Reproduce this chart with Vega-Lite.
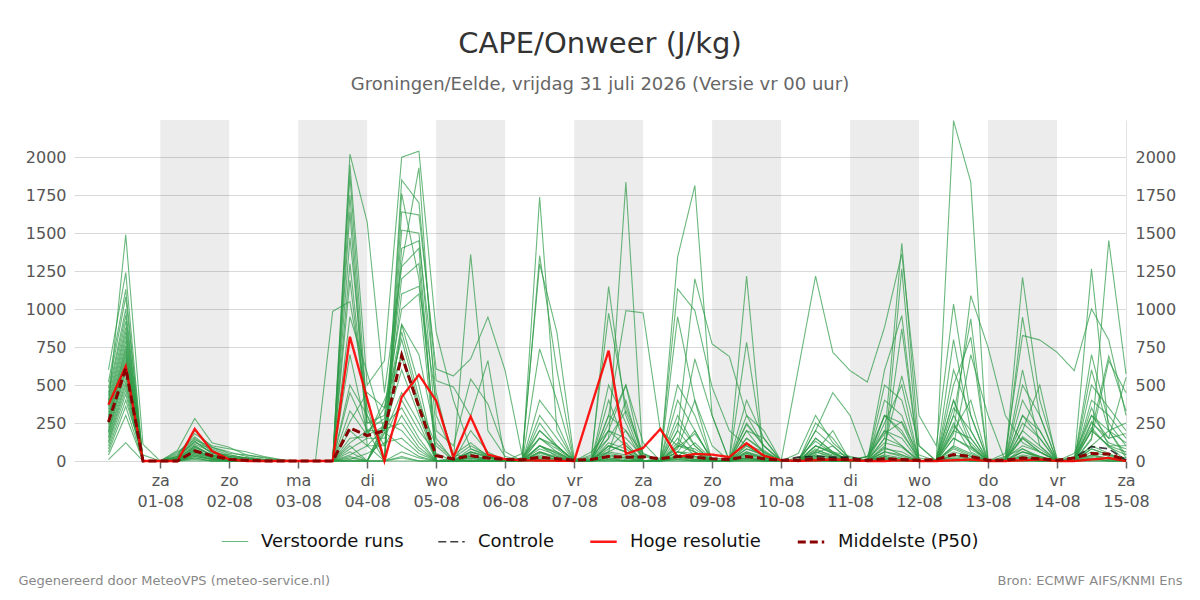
{
  "$schema": "https://vega.github.io/schema/vega-lite/v6.json",
  "width": 1052,
  "height": 341,
  "autosize": "none",
  "padding": {"left": 74, "top": 120, "right": 74, "bottom": 139},
  "title": {
    "text": "CAPE/Onweer (J/kg)",
    "subtitle": "Groningen/Eelde, vrijdag 31 juli 2026 (Versie vr 00 uur)",
    "anchor": "middle"
  },
  "config": {
    "font": "DejaVu Sans",
    "view": {"stroke": null},
    "title": {"fontSize": 29, "fontWeight": "normal", "color": "#333333", "subtitleFontSize": 18, "subtitleColor": "#666666", "subtitlePadding": 17, "offset": 25},
    "axis": {"labelFontSize": 16, "labelColor": "#555555"},
    "legend": {"layout": {"bottom": {"anchor": "middle"}}}
  },
  "datasets": {
    "reeksen": [
      {"run":"m1","serie":"Verstoorde runs","s0":450,"s1":1000,"s2":0,"s3":0,"s4":20,"s5":150,"s6":60,"s7":20,"s8":10,"s9":0,"s10":0,"s11":0,"s12":0,"s13":0,"s14":2020,"s15":1573,"s16":450,"s17":1300,"s18":1930,"s19":300,"s20":40,"s21":120,"s22":30,"s23":0,"s24":20,"s25":200,"s26":90,"s27":10,"s28":0,"s29":150,"s30":330,"s31":40,"s32":0,"s33":90,"s34":180,"s35":20,"s36":10,"s37":240,"s38":100,"s39":0,"s40":10,"s41":70,"s42":40,"s43":0,"s44":30,"s45":180,"s46":260,"s47":40,"s48":0,"s49":230,"s50":120,"s51":0,"s52":10,"s53":160,"s54":80,"s55":0,"s56":30,"s57":220,"s58":90,"s59":40},
      {"run":"m2","serie":"Verstoorde runs","s0":380,"s1":1490,"s2":110,"s3":0,"s4":70,"s5":280,"s6":120,"s7":90,"s8":40,"s9":20,"s10":5,"s11":0,"s12":0,"s13":985,"s14":1050,"s15":400,"s16":0,"s17":1760,"s18":1200,"s19":120,"s20":10,"s21":1360,"s22":200,"s23":30,"s24":0,"s25":60,"s26":20,"s27":0,"s28":40,"s29":973,"s30":360,"s31":50,"s32":0,"s33":30,"s34":120,"s35":10,"s36":0,"s37":80,"s38":40,"s39":0,"s40":50,"s41":300,"s42":120,"s43":20,"s44":0,"s45":60,"s46":870,"s47":0,"s48":10,"s49":400,"s50":150,"s51":0,"s52":30,"s53":80,"s54":20,"s55":0,"s56":0,"s57":100,"s58":200,"s59":120},
      {"run":"m3","serie":"Verstoorde runs","s0":600,"s1":1240,"s2":0,"s3":0,"s4":30,"s5":200,"s6":90,"s7":60,"s8":30,"s9":10,"s10":0,"s11":0,"s12":0,"s13":0,"s14":1950,"s15":500,"s16":660,"s17":2000,"s18":2040,"s19":850,"s20":400,"s21":80,"s22":40,"s23":0,"s24":10,"s25":100,"s26":60,"s27":0,"s28":20,"s29":60,"s30":120,"s31":0,"s32":0,"s33":1342,"s34":1814,"s35":300,"s36":0,"s37":110,"s38":60,"s39":0,"s40":20,"s41":130,"s42":50,"s43":0,"s44":0,"s45":90,"s46":40,"s47":0,"s48":0,"s49":2240,"s50":1836,"s51":0,"s52":10,"s53":60,"s54":30,"s55":0,"s56":20,"s57":200,"s58":100,"s59":60},
      {"run":"m4","serie":"Verstoorde runs","s0":520,"s1":1130,"s2":0,"s3":0,"s4":40,"s5":180,"s6":100,"s7":80,"s8":60,"s9":30,"s10":10,"s11":0,"s12":0,"s13":0,"s14":1880,"s15":300,"s16":0,"s17":1640,"s18":1620,"s19":606,"s20":560,"s21":672,"s22":947,"s23":595,"s24":30,"s25":150,"s26":80,"s27":0,"s28":10,"s29":250,"s30":500,"s31":120,"s32":0,"s33":60,"s34":200,"s35":0,"s36":0,"s37":150,"s38":70,"s39":0,"s40":0,"s41":40,"s42":20,"s43":10,"s44":30,"s45":300,"s46":180,"s47":20,"s48":0,"s49":150,"s50":90,"s51":0,"s52":0,"s53":1210,"s54":400,"s55":20,"s56":0,"s57":260,"s58":120,"s59":80},
      {"run":"m5","serie":"Verstoorde runs","s0":480,"s1":1080,"s2":0,"s3":0,"s4":20,"s5":130,"s6":50,"s7":40,"s8":20,"s9":0,"s10":0,"s11":0,"s12":0,"s13":0,"s14":1750,"s15":200,"s16":0,"s17":1850,"s18":1700,"s19":529,"s20":487,"s21":296,"s22":661,"s23":0,"s24":50,"s25":1298,"s26":848,"s27":20,"s28":0,"s29":100,"s30":60,"s31":0,"s32":0,"s33":200,"s34":1199,"s35":771,"s36":688,"s37":300,"s38":100,"s39":0,"s40":0,"s41":80,"s42":30,"s43":0,"s44":10,"s45":120,"s46":90,"s47":0,"s48":0,"s49":180,"s50":1089,"s51":749,"s52":300,"s53":120,"s54":60,"s55":0,"s56":0,"s57":80,"s58":40,"s59":0},
      {"run":"m6","serie":"Verstoorde runs","s0":430,"s1":960,"s2":0,"s3":0,"s4":50,"s5":160,"s6":70,"s7":30,"s8":20,"s9":10,"s10":0,"s11":0,"s12":0,"s13":0,"s14":1640,"s15":100,"s16":0,"s17":1520,"s18":1500,"s19":200,"s20":100,"s21":540,"s22":375,"s23":60,"s24":0,"s25":1738,"s26":200,"s27":0,"s28":30,"s29":150,"s30":1836,"s31":0,"s32":0,"s33":60,"s34":30,"s35":0,"s36":10,"s37":1217,"s38":0,"s39":0,"s40":0,"s41":100,"s42":60,"s43":30,"s44":0,"s45":150,"s46":1434,"s47":100,"s48":0,"s49":90,"s50":40,"s51":0,"s52":0,"s53":947,"s54":300,"s55":0,"s56":0,"s57":1265,"s58":200,"s59":40},
      {"run":"m7","serie":"Verstoorde runs","s0":400,"s1":920,"s2":0,"s3":0,"s4":60,"s5":140,"s6":90,"s7":50,"s8":40,"s9":25,"s10":5,"s11":0,"s12":0,"s13":0,"s14":1470,"s15":350,"s16":0,"s17":1400,"s18":1450,"s19":450,"s20":0,"s21":200,"s22":60,"s23":0,"s24":20,"s25":1353,"s26":600,"s27":0,"s28":0,"s29":1149,"s30":300,"s31":0,"s32":20,"s33":1133,"s34":990,"s35":486,"s36":200,"s37":100,"s38":30,"s39":0,"s40":606,"s41":1217,"s42":716,"s43":595,"s44":520,"s45":881,"s46":1364,"s47":300,"s48":100,"s49":1034,"s50":300,"s51":0,"s52":50,"s53":826,"s54":797,"s55":716,"s56":595,"s57":1001,"s58":797,"s59":300},
      {"run":"m8","serie":"Verstoorde runs","s0":380,"s1":880,"s2":0,"s3":0,"s4":10,"s5":100,"s6":30,"s7":20,"s8":10,"s9":0,"s10":0,"s11":0,"s12":0,"s13":0,"s14":1300,"s15":250,"s16":300,"s17":1280,"s18":1400,"s19":0,"s20":20,"s21":100,"s22":40,"s23":0,"s24":0,"s25":738,"s26":400,"s27":0,"s28":10,"s29":300,"s30":990,"s31":975,"s32":200,"s33":100,"s34":672,"s35":300,"s36":0,"s37":782,"s38":40,"s39":0,"s40":0,"s41":150,"s42":60,"s43":0,"s44":0,"s45":40,"s46":1265,"s47":0,"s48":0,"s49":300,"s50":936,"s51":0,"s52":10,"s53":150,"s54":60,"s55":0,"s56":0,"s57":140,"s58":1452,"s59":573},
      {"run":"m9","serie":"Verstoorde runs","s0":360,"s1":850,"s2":0,"s3":0,"s4":30,"s5":120,"s6":80,"s7":40,"s8":20,"s9":0,"s10":0,"s11":0,"s12":0,"s13":0,"s14":1190,"s15":250,"s16":250,"s17":1200,"s18":1300,"s19":0,"s20":10,"s21":60,"s22":30,"s23":0,"s24":0,"s25":200,"s26":100,"s27":0,"s28":0,"s29":60,"s30":400,"s31":0,"s32":0,"s33":950,"s34":397,"s35":0,"s36":0,"s37":60,"s38":20,"s39":0,"s40":0,"s41":200,"s42":450,"s43":300,"s44":0,"s45":600,"s46":957,"s47":0,"s48":0,"s49":500,"s50":815,"s51":0,"s52":0,"s53":300,"s54":200,"s55":0,"s56":0,"s57":500,"s58":350,"s59":200},
      {"run":"m10","serie":"Verstoorde runs","s0":340,"s1":820,"s2":0,"s3":0,"s4":20,"s5":90,"s6":40,"s7":10,"s8":0,"s9":0,"s10":0,"s11":0,"s12":0,"s13":0,"s14":950,"s15":580,"s16":200,"s17":1100,"s18":1150,"s19":400,"s20":40,"s21":30,"s22":0,"s23":0,"s24":0,"s25":100,"s26":50,"s27":0,"s28":60,"s29":200,"s30":150,"s31":30,"s32":0,"s33":500,"s34":300,"s35":0,"s36":0,"s37":200,"s38":50,"s39":0,"s40":0,"s41":60,"s42":30,"s43":0,"s44":30,"s45":200,"s46":100,"s47":0,"s48":0,"s49":600,"s50":300,"s51":0,"s52":20,"s53":100,"s54":60,"s55":0,"s56":50,"s57":300,"s58":150,"s59":550},
      {"run":"m11","serie":"Verstoorde runs","s0":320,"s1":790,"s2":0,"s3":0,"s4":0,"s5":80,"s6":20,"s7":0,"s8":0,"s9":0,"s10":0,"s11":0,"s12":0,"s13":0,"s14":700,"s15":180,"s16":350,"s17":1000,"s18":1100,"s19":0,"s20":0,"s21":80,"s22":30,"s23":0,"s24":10,"s25":150,"s26":60,"s27":0,"s28":0,"s29":80,"s30":200,"s31":50,"s32":0,"s33":100,"s34":80,"s35":0,"s36":0,"s37":300,"s38":200,"s39":0,"s40":0,"s41":30,"s42":0,"s43":0,"s44":0,"s45":100,"s46":560,"s47":100,"s48":0,"s49":800,"s50":200,"s51":0,"s52":0,"s53":500,"s54":300,"s55":0,"s56":0,"s57":700,"s58":250,"s59":100},
      {"run":"m12","serie":"Verstoorde runs","s0":300,"s1":760,"s2":0,"s3":0,"s4":10,"s5":70,"s6":30,"s7":20,"s8":10,"s9":0,"s10":0,"s11":0,"s12":0,"s13":0,"s14":500,"s15":300,"s16":100,"s17":900,"s18":700,"s19":150,"s20":0,"s21":40,"s22":0,"s23":0,"s24":0,"s25":300,"s26":150,"s27":0,"s28":0,"s29":400,"s30":100,"s31":0,"s32":0,"s33":200,"s34":60,"s35":0,"s36":0,"s37":100,"s38":30,"s39":0,"s40":0,"s41":200,"s42":100,"s43":0,"s44":0,"s45":300,"s46":200,"s47":0,"s48":10,"s49":400,"s50":100,"s51":0,"s52":0,"s53":200,"s54":500,"s55":0,"s56":0,"s57":200,"s58":690,"s59":330},
      {"run":"m13","serie":"Verstoorde runs","s0":290,"s1":740,"s2":0,"s3":0,"s4":0,"s5":60,"s6":20,"s7":10,"s8":0,"s9":0,"s10":0,"s11":0,"s12":0,"s13":0,"s14":450,"s15":200,"s16":280,"s17":900,"s18":500,"s19":0,"s20":0,"s21":30,"s22":20,"s23":0,"s24":0,"s25":60,"s26":30,"s27":0,"s28":0,"s29":300,"s30":200,"s31":0,"s32":0,"s33":80,"s34":400,"s35":100,"s36":0,"s37":50,"s38":20,"s39":0,"s40":0,"s41":60,"s42":20,"s43":0,"s44":0,"s45":400,"s46":300,"s47":0,"s48":0,"s49":100,"s50":700,"s51":300,"s52":0,"s53":200,"s54":100,"s55":0,"s56":0,"s57":400,"s58":300,"s59":150},
      {"run":"m14","serie":"Verstoorde runs","s0":280,"s1":720,"s2":0,"s3":0,"s4":20,"s5":110,"s6":60,"s7":30,"s8":20,"s9":10,"s10":0,"s11":0,"s12":0,"s13":0,"s14":330,"s15":170,"s16":230,"s17":850,"s18":420,"s19":0,"s20":0,"s21":50,"s22":0,"s23":0,"s24":0,"s25":400,"s26":250,"s27":0,"s28":0,"s29":500,"s30":250,"s31":0,"s32":0,"s33":150,"s34":30,"s35":0,"s36":0,"s37":200,"s38":150,"s39":0,"s40":0,"s41":100,"s42":50,"s43":0,"s44":0,"s45":250,"s46":500,"s47":0,"s48":0,"s49":250,"s50":60,"s51":0,"s52":0,"s53":300,"s54":150,"s55":0,"s56":0,"s57":150,"s58":660,"s59":450},
      {"run":"m15","serie":"Verstoorde runs","s0":260,"s1":700,"s2":0,"s3":0,"s4":0,"s5":90,"s6":40,"s7":20,"s8":0,"s9":0,"s10":0,"s11":0,"s12":0,"s13":0,"s14":260,"s15":450,"s16":350,"s17":800,"s18":380,"s19":100,"s20":0,"s21":20,"s22":0,"s23":0,"s24":0,"s25":100,"s26":30,"s27":0,"s28":0,"s29":200,"s30":500,"s31":0,"s32":0,"s33":300,"s34":100,"s35":0,"s36":0,"s37":150,"s38":60,"s39":0,"s40":0,"s41":50,"s42":100,"s43":0,"s44":0,"s45":200,"s46":150,"s47":0,"s48":0,"s49":350,"s50":200,"s51":0,"s52":0,"s53":600,"s54":100,"s55":0,"s56":0,"s57":300,"s58":200,"s59":20},
      {"run":"m16","serie":"Verstoorde runs","s0":250,"s1":680,"s2":0,"s3":0,"s4":10,"s5":80,"s6":20,"s7":10,"s8":0,"s9":0,"s10":0,"s11":0,"s12":0,"s13":0,"s14":200,"s15":100,"s16":220,"s17":720,"s18":360,"s19":0,"s20":0,"s21":60,"s22":20,"s23":0,"s24":0,"s25":250,"s26":100,"s27":0,"s28":0,"s29":100,"s30":60,"s31":0,"s32":0,"s33":400,"s34":200,"s35":0,"s36":0,"s37":250,"s38":100,"s39":0,"s40":0,"s41":150,"s42":60,"s43":0,"s44":0,"s45":60,"s46":40,"s47":0,"s48":0,"s49":200,"s50":400,"s51":0,"s52":0,"s53":250,"s54":150,"s55":0,"s56":0,"s57":600,"s58":200,"s59":250},
      {"run":"m17","serie":"Verstoorde runs","s0":240,"s1":660,"s2":0,"s3":0,"s4":0,"s5":50,"s6":10,"s7":0,"s8":0,"s9":0,"s10":0,"s11":0,"s12":0,"s13":0,"s14":150,"s15":160,"s16":400,"s17":680,"s18":340,"s19":0,"s20":0,"s21":20,"s22":0,"s23":0,"s24":0,"s25":80,"s26":40,"s27":0,"s28":0,"s29":120,"s30":80,"s31":0,"s32":0,"s33":250,"s34":100,"s35":0,"s36":0,"s37":400,"s38":150,"s39":0,"s40":0,"s41":20,"s42":0,"s43":0,"s44":0,"s45":150,"s46":100,"s47":0,"s48":0,"s49":150,"s50":80,"s51":0,"s52":0,"s53":80,"s54":30,"s55":0,"s56":0,"s57":350,"s58":100,"s59":0},
      {"run":"m18","serie":"Verstoorde runs","s0":220,"s1":640,"s2":0,"s3":0,"s4":30,"s5":130,"s6":50,"s7":30,"s8":10,"s9":0,"s10":0,"s11":0,"s12":0,"s13":0,"s14":120,"s15":200,"s16":200,"s17":600,"s18":300,"s19":0,"s20":0,"s21":60,"s22":30,"s23":0,"s24":0,"s25":150,"s26":100,"s27":0,"s28":0,"s29":100,"s30":60,"s31":0,"s32":0,"s33":60,"s34":50,"s35":0,"s36":0,"s37":40,"s38":20,"s39":0,"s40":0,"s41":250,"s42":150,"s43":0,"s44":0,"s45":500,"s46":400,"s47":0,"s48":0,"s49":300,"s50":100,"s51":0,"s52":0,"s53":150,"s54":60,"s55":0,"s56":0,"s57":200,"s58":100,"s59":100},
      {"run":"m19","serie":"Verstoorde runs","s0":200,"s1":620,"s2":0,"s3":0,"s4":0,"s5":70,"s6":30,"s7":10,"s8":0,"s9":0,"s10":0,"s11":0,"s12":0,"s13":0,"s14":100,"s15":0,"s16":180,"s17":450,"s18":250,"s19":0,"s20":0,"s21":0,"s22":0,"s23":0,"s24":0,"s25":50,"s26":20,"s27":0,"s28":0,"s29":50,"s30":30,"s31":0,"s32":0,"s33":100,"s34":60,"s35":0,"s36":0,"s37":60,"s38":30,"s39":0,"s40":0,"s41":100,"s42":50,"s43":0,"s44":0,"s45":80,"s46":60,"s47":0,"s48":0,"s49":100,"s50":50,"s51":0,"s52":0,"s53":60,"s54":30,"s55":0,"s56":0,"s57":100,"s58":50,"s59":0},
      {"run":"m20","serie":"Verstoorde runs","s0":190,"s1":600,"s2":0,"s3":0,"s4":10,"s5":100,"s6":40,"s7":20,"s8":0,"s9":0,"s10":0,"s11":0,"s12":0,"s13":0,"s14":80,"s15":150,"s16":150,"s17":400,"s18":200,"s19":50,"s20":0,"s21":30,"s22":10,"s23":0,"s24":0,"s25":100,"s26":50,"s27":0,"s28":0,"s29":200,"s30":100,"s31":0,"s32":0,"s33":120,"s34":60,"s35":0,"s36":0,"s37":80,"s38":40,"s39":0,"s40":0,"s41":60,"s42":200,"s43":0,"s44":0,"s45":300,"s46":250,"s47":0,"s48":0,"s49":200,"s50":150,"s51":0,"s52":0,"s53":400,"s54":200,"s55":0,"s56":0,"s57":250,"s58":150,"s59":180},
      {"run":"m21","serie":"Verstoorde runs","s0":180,"s1":580,"s2":0,"s3":0,"s4":0,"s5":40,"s6":10,"s7":0,"s8":0,"s9":0,"s10":0,"s11":0,"s12":0,"s13":0,"s14":60,"s15":0,"s16":240,"s17":350,"s18":150,"s19":0,"s20":0,"s21":10,"s22":0,"s23":0,"s24":0,"s25":40,"s26":10,"s27":0,"s28":0,"s29":30,"s30":20,"s31":0,"s32":0,"s33":40,"s34":20,"s35":0,"s36":0,"s37":30,"s38":10,"s39":0,"s40":0,"s41":30,"s42":10,"s43":0,"s44":0,"s45":40,"s46":20,"s47":0,"s48":0,"s49":60,"s50":30,"s51":0,"s52":0,"s53":40,"s54":20,"s55":0,"s56":0,"s57":60,"s58":30,"s59":10},
      {"run":"m22","serie":"Verstoorde runs","s0":160,"s1":550,"s2":0,"s3":0,"s4":20,"s5":60,"s6":20,"s7":10,"s8":0,"s9":0,"s10":0,"s11":0,"s12":0,"s13":0,"s14":40,"s15":100,"s16":100,"s17":300,"s18":120,"s19":0,"s20":0,"s21":0,"s22":0,"s23":0,"s24":0,"s25":30,"s26":10,"s27":0,"s28":0,"s29":60,"s30":40,"s31":0,"s32":0,"s33":30,"s34":10,"s35":0,"s36":0,"s37":20,"s38":10,"s39":0,"s40":0,"s41":20,"s42":10,"s43":0,"s44":0,"s45":30,"s46":10,"s47":0,"s48":0,"s49":40,"s50":20,"s51":0,"s52":0,"s53":30,"s54":10,"s55":0,"s56":0,"s57":40,"s58":20,"s59":0},
      {"run":"m23","serie":"Verstoorde runs","s0":150,"s1":520,"s2":0,"s3":0,"s4":0,"s5":30,"s6":10,"s7":0,"s8":0,"s9":0,"s10":0,"s11":0,"s12":0,"s13":0,"s14":30,"s15":0,"s16":210,"s17":250,"s18":90,"s19":0,"s20":0,"s21":0,"s22":0,"s23":0,"s24":0,"s25":20,"s26":10,"s27":0,"s28":0,"s29":20,"s30":10,"s31":0,"s32":0,"s33":10,"s34":0,"s35":0,"s36":0,"s37":20,"s38":0,"s39":0,"s40":0,"s41":10,"s42":0,"s43":0,"s44":0,"s45":20,"s46":10,"s47":0,"s48":0,"s49":30,"s50":10,"s51":0,"s52":0,"s53":20,"s54":0,"s55":0,"s56":0,"s57":30,"s58":10,"s59":0},
      {"run":"m24","serie":"Verstoorde runs","s0":130,"s1":500,"s2":0,"s3":0,"s4":0,"s5":20,"s6":0,"s7":0,"s8":0,"s9":0,"s10":0,"s11":0,"s12":0,"s13":0,"s14":20,"s15":0,"s16":260,"s17":200,"s18":70,"s19":0,"s20":0,"s21":0,"s22":0,"s23":0,"s24":0,"s25":10,"s26":0,"s27":0,"s28":0,"s29":10,"s30":0,"s31":0,"s32":0,"s33":20,"s34":10,"s35":0,"s36":0,"s37":10,"s38":0,"s39":0,"s40":0,"s41":10,"s42":0,"s43":0,"s44":0,"s45":10,"s46":0,"s47":0,"s48":0,"s49":20,"s50":0,"s51":0,"s52":0,"s53":10,"s54":0,"s55":0,"s56":0,"s57":20,"s58":0,"s59":0},
      {"run":"m25","serie":"Verstoorde runs","s0":120,"s1":470,"s2":0,"s3":0,"s4":0,"s5":50,"s6":20,"s7":0,"s8":0,"s9":0,"s10":0,"s11":0,"s12":0,"s13":0,"s14":10,"s15":50,"s16":120,"s17":150,"s18":50,"s19":0,"s20":0,"s21":0,"s22":0,"s23":0,"s24":0,"s25":60,"s26":20,"s27":0,"s28":0,"s29":40,"s30":20,"s31":0,"s32":0,"s33":60,"s34":30,"s35":0,"s36":0,"s37":50,"s38":20,"s39":0,"s40":0,"s41":40,"s42":20,"s43":0,"s44":0,"s45":60,"s46":30,"s47":0,"s48":0,"s49":80,"s50":30,"s51":0,"s52":0,"s53":60,"s54":20,"s55":0,"s56":0,"s57":80,"s58":40,"s59":20},
      {"run":"m26","serie":"Verstoorde runs","s0":100,"s1":440,"s2":0,"s3":0,"s4":0,"s5":40,"s6":10,"s7":0,"s8":0,"s9":0,"s10":0,"s11":0,"s12":0,"s13":0,"s14":0,"s15":0,"s16":190,"s17":100,"s18":30,"s19":0,"s20":0,"s21":0,"s22":0,"s23":0,"s24":0,"s25":20,"s26":0,"s27":0,"s28":0,"s29":20,"s30":0,"s31":0,"s32":0,"s33":30,"s34":10,"s35":0,"s36":0,"s37":20,"s38":0,"s39":0,"s40":0,"s41":20,"s42":0,"s43":0,"s44":0,"s45":30,"s46":10,"s47":0,"s48":0,"s49":40,"s50":10,"s51":0,"s52":0,"s53":30,"s54":0,"s55":0,"s56":0,"s57":40,"s58":10,"s59":0},
      {"run":"m27","serie":"Verstoorde runs","s0":80,"s1":400,"s2":40,"s3":0,"s4":0,"s5":30,"s6":10,"s7":0,"s8":0,"s9":0,"s10":0,"s11":0,"s12":0,"s13":0,"s14":0,"s15":0,"s16":0,"s17":60,"s18":20,"s19":0,"s20":0,"s21":0,"s22":0,"s23":0,"s24":0,"s25":10,"s26":0,"s27":0,"s28":0,"s29":10,"s30":0,"s31":0,"s32":0,"s33":10,"s34":0,"s35":0,"s36":0,"s37":10,"s38":0,"s39":0,"s40":0,"s41":0,"s42":0,"s43":0,"s44":0,"s45":10,"s46":0,"s47":0,"s48":0,"s49":20,"s50":0,"s51":0,"s52":0,"s53":10,"s54":0,"s55":0,"s56":0,"s57":20,"s58":0,"s59":0},
      {"run":"m28","serie":"Verstoorde runs","s0":60,"s1":360,"s2":0,"s3":0,"s4":0,"s5":20,"s6":0,"s7":0,"s8":0,"s9":0,"s10":0,"s11":0,"s12":0,"s13":0,"s14":0,"s15":0,"s16":0,"s17":30,"s18":0,"s19":0,"s20":0,"s21":0,"s22":0,"s23":0,"s24":0,"s25":0,"s26":0,"s27":0,"s28":0,"s29":0,"s30":0,"s31":0,"s32":0,"s33":0,"s34":0,"s35":0,"s36":0,"s37":0,"s38":0,"s39":0,"s40":0,"s41":0,"s42":0,"s43":0,"s44":0,"s45":0,"s46":0,"s47":0,"s48":0,"s49":10,"s50":0,"s51":0,"s52":0,"s53":0,"s54":0,"s55":0,"s56":0,"s57":10,"s58":0,"s59":0},
      {"run":"m29","serie":"Verstoorde runs","s0":40,"s1":300,"s2":0,"s3":0,"s4":0,"s5":10,"s6":0,"s7":0,"s8":0,"s9":0,"s10":0,"s11":0,"s12":0,"s13":0,"s14":0,"s15":0,"s16":0,"s17":20,"s18":0,"s19":0,"s20":0,"s21":0,"s22":0,"s23":0,"s24":0,"s25":0,"s26":0,"s27":0,"s28":0,"s29":0,"s30":0,"s31":0,"s32":0,"s33":20,"s34":0,"s35":0,"s36":0,"s37":0,"s38":0,"s39":0,"s40":0,"s41":0,"s42":0,"s43":0,"s44":0,"s45":20,"s46":0,"s47":0,"s48":0,"s49":0,"s50":0,"s51":0,"s52":0,"s53":0,"s54":0,"s55":0,"s56":0,"s57":0,"s58":0,"s59":0},
      {"run":"m30","serie":"Verstoorde runs","s0":10,"s1":120,"s2":0,"s3":0,"s4":0,"s5":0,"s6":0,"s7":0,"s8":0,"s9":0,"s10":0,"s11":0,"s12":0,"s13":0,"s14":0,"s15":0,"s16":0,"s17":0,"s18":0,"s19":0,"s20":0,"s21":0,"s22":0,"s23":0,"s24":0,"s25":0,"s26":0,"s27":0,"s28":0,"s29":0,"s30":0,"s31":0,"s32":0,"s33":0,"s34":0,"s35":0,"s36":0,"s37":0,"s38":0,"s39":0,"s40":0,"s41":0,"s42":0,"s43":0,"s44":0,"s45":0,"s46":0,"s47":0,"s48":0,"s49":0,"s50":0,"s51":0,"s52":0,"s53":0,"s54":0,"s55":0,"s56":0,"s57":0,"s58":0,"s59":0},
      {"run":"ctrl","serie":"Controle","s0":257,"s1":610,"s2":0,"s3":0,"s4":0,"s5":66,"s6":35,"s7":10,"s8":5,"s9":0,"s10":0,"s11":0,"s12":0,"s13":0,"s14":217,"s15":167,"s16":200,"s17":694,"s18":354,"s19":35,"s20":13,"s21":35,"s22":20,"s23":10,"s24":8,"s25":25,"s26":15,"s27":5,"s28":10,"s29":30,"s30":25,"s31":28,"s32":15,"s33":30,"s34":25,"s35":15,"s36":10,"s37":30,"s38":15,"s39":5,"s40":25,"s41":30,"s42":25,"s43":25,"s44":5,"s45":15,"s46":10,"s47":5,"s48":10,"s49":42,"s50":30,"s51":5,"s52":5,"s53":20,"s54":15,"s55":5,"s56":20,"s57":95,"s58":80,"s59":5},
      {"run":"hres","serie":"Hoge resolutie","s0":371,"s1":624,"s2":0,"s3":0,"s4":0,"s5":211,"s6":66,"s7":10,"s8":0,"s9":0,"s10":0,"s11":0,"s12":0,"s13":0,"s14":818,"s15":410,"s16":0,"s17":421,"s18":567,"s19":397,"s20":25,"s21":292,"s22":42,"s23":12,"s24":5,"s25":3,"s26":2,"s27":0,"s28":364,"s29":727,"s30":46,"s31":86,"s32":211,"s33":26,"s34":46,"s35":42,"s36":26,"s37":117,"s38":35,"s39":5,"s40":0,"s41":5,"s42":10,"s43":5,"s44":0,"s45":0,"s46":5,"s47":0,"s48":0,"s49":5,"s50":10,"s51":0,"s52":0,"s53":5,"s54":10,"s55":0,"s56":0,"s57":10,"s58":20,"s59":0},
      {"run":"p50","serie":"Middelste (P50)","s0":257,"s1":610,"s2":0,"s3":0,"s4":0,"s5":66,"s6":35,"s7":10,"s8":5,"s9":0,"s10":0,"s11":0,"s12":0,"s13":0,"s14":217,"s15":167,"s16":200,"s17":694,"s18":354,"s19":35,"s20":13,"s21":35,"s22":20,"s23":10,"s24":8,"s25":25,"s26":15,"s27":5,"s28":10,"s29":30,"s30":25,"s31":28,"s32":15,"s33":30,"s34":25,"s35":15,"s36":10,"s37":30,"s38":15,"s39":5,"s40":5,"s41":15,"s42":10,"s43":10,"s44":5,"s45":15,"s46":10,"s47":5,"s48":10,"s49":42,"s50":30,"s51":5,"s52":5,"s53":20,"s54":15,"s55":5,"s56":20,"s57":50,"s58":46,"s59":5}
    ],
    "tijden": [
      {"stap":"s0","tijd":1785477600000},{"stap":"s1","tijd":1785499200000},{"stap":"s2","tijd":1785520800000},
      {"stap":"s3","tijd":1785542400000},{"stap":"s4","tijd":1785564000000},{"stap":"s5","tijd":1785585600000},{"stap":"s6","tijd":1785607200000},
      {"stap":"s7","tijd":1785628800000},{"stap":"s8","tijd":1785650400000},{"stap":"s9","tijd":1785672000000},{"stap":"s10","tijd":1785693600000},
      {"stap":"s11","tijd":1785715200000},{"stap":"s12","tijd":1785736800000},{"stap":"s13","tijd":1785758400000},{"stap":"s14","tijd":1785780000000},
      {"stap":"s15","tijd":1785801600000},{"stap":"s16","tijd":1785823200000},{"stap":"s17","tijd":1785844800000},{"stap":"s18","tijd":1785866400000},
      {"stap":"s19","tijd":1785888000000},{"stap":"s20","tijd":1785909600000},{"stap":"s21","tijd":1785931200000},{"stap":"s22","tijd":1785952800000},
      {"stap":"s23","tijd":1785974400000},{"stap":"s24","tijd":1785996000000},{"stap":"s25","tijd":1786017600000},{"stap":"s26","tijd":1786039200000},
      {"stap":"s27","tijd":1786060800000},{"stap":"s28","tijd":1786082400000},{"stap":"s29","tijd":1786104000000},{"stap":"s30","tijd":1786125600000},
      {"stap":"s31","tijd":1786147200000},{"stap":"s32","tijd":1786168800000},{"stap":"s33","tijd":1786190400000},{"stap":"s34","tijd":1786212000000},
      {"stap":"s35","tijd":1786233600000},{"stap":"s36","tijd":1786255200000},{"stap":"s37","tijd":1786276800000},{"stap":"s38","tijd":1786298400000},
      {"stap":"s39","tijd":1786320000000},{"stap":"s40","tijd":1786341600000},{"stap":"s41","tijd":1786363200000},{"stap":"s42","tijd":1786384800000},
      {"stap":"s43","tijd":1786406400000},{"stap":"s44","tijd":1786428000000},{"stap":"s45","tijd":1786449600000},{"stap":"s46","tijd":1786471200000},
      {"stap":"s47","tijd":1786492800000},{"stap":"s48","tijd":1786514400000},{"stap":"s49","tijd":1786536000000},{"stap":"s50","tijd":1786557600000},
      {"stap":"s51","tijd":1786579200000},{"stap":"s52","tijd":1786600800000},{"stap":"s53","tijd":1786622400000},{"stap":"s54","tijd":1786644000000},
      {"stap":"s55","tijd":1786665600000},{"stap":"s56","tijd":1786687200000},{"stap":"s57","tijd":1786708800000},{"stap":"s58","tijd":1786730400000},
      {"stap":"s59","tijd":1786752000000}
    ]
  },
  "layer": [
    {
      "data": {"values": [
        {"tijd": "2026-08-01T00:00:00Z", "tot": "2026-08-02T00:00:00Z"},
        {"tijd": "2026-08-03T00:00:00Z", "tot": "2026-08-04T00:00:00Z"},
        {"tijd": "2026-08-05T00:00:00Z", "tot": "2026-08-06T00:00:00Z"},
        {"tijd": "2026-08-07T00:00:00Z", "tot": "2026-08-08T00:00:00Z"},
        {"tijd": "2026-08-09T00:00:00Z", "tot": "2026-08-10T00:00:00Z"},
        {"tijd": "2026-08-11T00:00:00Z", "tot": "2026-08-12T00:00:00Z"},
        {"tijd": "2026-08-13T00:00:00Z", "tot": "2026-08-14T00:00:00Z"}
      ]},
      "mark": {"type": "rect", "color": "#000000", "opacity": 0.075},
      "encoding": {
        "x": {
          "field": "tijd", "type": "temporal",
          "scale": {"type": "utc", "domain": [{"year": 2026, "month": 7, "date": 30, "hours": 18, "utc": true}, {"year": 2026, "month": 8, "date": 15, "utc": true}]},
          "axis": {
            "title": null, "grid": false, "domain": false,
            "values": [
              {"year": 2026, "month": 8, "date": 1, "utc": true}, {"year": 2026, "month": 8, "date": 2, "utc": true}, {"year": 2026, "month": 8, "date": 3, "utc": true},
              {"year": 2026, "month": 8, "date": 4, "utc": true}, {"year": 2026, "month": 8, "date": 5, "utc": true}, {"year": 2026, "month": 8, "date": 6, "utc": true},
              {"year": 2026, "month": 8, "date": 7, "utc": true}, {"year": 2026, "month": 8, "date": 8, "utc": true}, {"year": 2026, "month": 8, "date": 9, "utc": true},
              {"year": 2026, "month": 8, "date": 10, "utc": true}, {"year": 2026, "month": 8, "date": 11, "utc": true}, {"year": 2026, "month": 8, "date": 12, "utc": true},
              {"year": 2026, "month": 8, "date": 13, "utc": true}, {"year": 2026, "month": 8, "date": 14, "utc": true}, {"year": 2026, "month": 8, "date": 15, "utc": true}
            ],
            "labelExpr": "[['zo','ma','di','wo','do','vr','za'][utcday(datum.value)], utcFormat(datum.value, '%d-%m')]",
            "labelOverlap": false, "labelFlush": false,
            "tickColor": "#666666", "tickSize": 7, "tickWidth": 1.5, "labelPadding": 4, "labelLineHeight": 21
          }
        },
        "x2": {"field": "tot"}
      }
    },
    {
      "data": {"name": "reeksen"},
      "transform": [
        {"fold": ["s0","s1","s2","s3","s4","s5","s6","s7","s8","s9","s10","s11","s12","s13","s14","s15","s16","s17","s18","s19","s20","s21","s22","s23","s24","s25","s26","s27","s28","s29","s30","s31","s32","s33","s34","s35","s36","s37","s38","s39","s40","s41","s42","s43","s44","s45","s46","s47","s48","s49","s50","s51","s52","s53","s54","s55","s56","s57","s58","s59"], "as": ["stap", "cape"]},
        {"lookup": "stap", "from": {"data": {"name": "tijden"}, "key": "stap", "fields": ["tijd"]}}
      ],
      "encoding": {
        "x": {"field": "tijd", "type": "temporal"},
        "y": {
          "field": "cape", "type": "quantitative",
          "scale": {"domain": [0, 2245], "nice": false},
          "axis": {
            "values": [0, 250, 500, 750, 1000, 1250, 1500, 1750, 2000], "format": "d",
            "grid": true, "gridColor": "#d9d9d9", "domain": false, "ticks": false, "labelPadding": 8,
            "title": "Gegenereerd door MeteoVPS (meteo-service.nl)",
            "titleAngle": 0, "titleAlign": "left", "titleBaseline": "middle", "titleX": -56, "titleY": 460,
            "titleFontSize": 13, "titleFontWeight": "normal", "titleColor": "#888888"
          }
        },
        "color": {
          "field": "serie", "type": "nominal",
          "scale": {"domain": ["Verstoorde runs", "Controle", "Hoge resolutie", "Middelste (P50)"], "range": ["#2b9a45", "#111111", "#ff0000", "#8b0000"]},
          "legend": {"title": null, "orient": "bottom", "direction": "horizontal", "labelFontSize": 18, "labelColor": "#111111", "symbolType": "stroke", "symbolSize": 700, "labelOffset": 12, "columnPadding": 30, "offset": 18}
        },
        "strokeDash": {
          "field": "serie", "type": "nominal",
          "scale": {"domain": ["Verstoorde runs", "Controle", "Hoge resolutie", "Middelste (P50)"], "range": [[1, 0], [8, 4], [1, 0], [8, 4]]}
        },
        "strokeWidth": {
          "field": "serie", "type": "nominal",
          "scale": {"domain": ["Verstoorde runs", "Controle", "Hoge resolutie", "Middelste (P50)"], "range": [1.1, 3, 3.5, 3]}
        },
        "opacity": {
          "field": "serie", "type": "nominal",
          "scale": {"domain": ["Verstoorde runs", "Controle", "Hoge resolutie", "Middelste (P50)"], "range": [0.7, 1, 1, 1]}
        },
        "detail": {"field": "run"}
      },
      "layer": [
        {"transform": [{"filter": "datum.serie === 'Verstoorde runs'"}], "mark": {"type": "line"}},
        {
          "transform": [{"filter": "datum.serie === 'Controle'"}],
          "mark": {"type": "line"},
          "encoding": {"y": {"field": "cape", "type": "quantitative", "scale": {"domain": [0, 2245], "nice": false}, "axis": null}}
        },
        {
          "transform": [{"filter": "datum.serie === 'Hoge resolutie'"}],
          "mark": {"type": "line"},
          "encoding": {"y": {"field": "cape", "type": "quantitative", "scale": {"domain": [0, 2245], "nice": false}, "axis": null}}
        },
        {
          "transform": [{"filter": "datum.serie === 'Middelste (P50)'"}],
          "mark": {"type": "line"},
          "encoding": {
            "y": {
              "field": "cape", "type": "quantitative",
              "scale": {"domain": [0, 2245], "nice": false},
              "axis": {
                "orient": "right",
                "values": [0, 250, 500, 750, 1000, 1250, 1500, 1750, 2000], "format": "d",
                "grid": false, "domain": true, "domainColor": "#e3e3e3", "ticks": false, "labelPadding": 9,
                "title": "Bron: ECMWF AIFS/KNMI Ens",
                "titleAngle": 0, "titleAlign": "right", "titleBaseline": "middle", "titleX": 56, "titleY": 460,
                "titleFontSize": 13, "titleFontWeight": "normal", "titleColor": "#888888"
              }
            }
          }
        }
      ],
      "resolve": {"axis": {"y": "independent"}}
    }
  ]
}
